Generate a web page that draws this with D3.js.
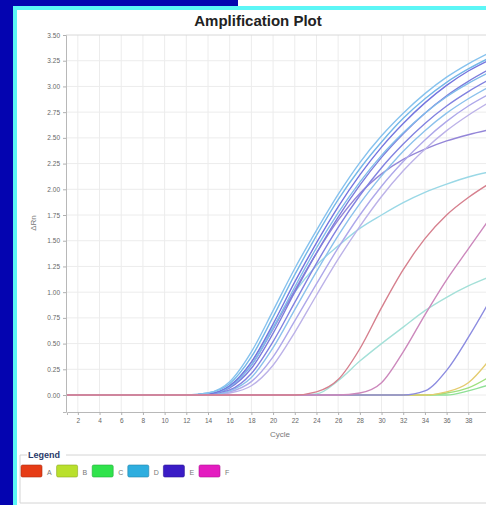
<!DOCTYPE html>
<html>
<head>
<meta charset="utf-8">
<script src="https://cdn.jsdelivr.net/npm/d3@7"></script>
<style>
  body { margin: 0; background: #fff; }
  svg { display: block; font-family: "Liberation Sans", Arial, sans-serif; }
</style>
</head>
<body>
<div id="chart"></div>
<script>
'use strict';

// Data: sampled cycles and delta Rn per well
var cycles = [1, 12, 14, 16, 18, 20, 22, 24, 26, 28, 30, 32, 34, 36, 38, 40];

var wellD1 = [0, 0, 0.02, 0.13, 0.42, 0.82, 1.23, 1.60, 1.95, 2.26, 2.52, 2.74, 2.93, 3.09, 3.22, 3.33];
var wellD2 = [0, 0, 0.02, 0.11, 0.37, 0.76, 1.17, 1.55, 1.90, 2.20, 2.46, 2.69, 2.88, 3.04, 3.17, 3.28];
var wellE1 = [0, 0, 0.01, 0.09, 0.32, 0.69, 1.10, 1.48, 1.83, 2.14, 2.41, 2.64, 2.84, 3.01, 3.15, 3.26];
var wellD3 = [0, 0, 0.01, 0.08, 0.29, 0.65, 1.05, 1.43, 1.77, 2.07, 2.33, 2.55, 2.74, 2.90, 3.03, 3.14];
var wellE2 = [0, 0, 0.01, 0.07, 0.26, 0.60, 1.00, 1.38, 1.73, 2.04, 2.31, 2.54, 2.74, 2.91, 3.05, 3.17];
var wellE3 = [0, 0, 0.01, 0.05, 0.21, 0.52, 0.90, 1.28, 1.63, 1.94, 2.21, 2.44, 2.64, 2.81, 2.95, 3.07];
var wellD4 = [0, 0, 0, 0.04, 0.17, 0.46, 0.83, 1.20, 1.55, 1.86, 2.13, 2.37, 2.57, 2.74, 2.88, 3.00];
var wellE4 = [0, 0, 0, 0.03, 0.13, 0.37, 0.72, 1.08, 1.43, 1.75, 2.03, 2.27, 2.48, 2.66, 2.81, 2.93];
var wellE5 = [0, 0, 0, 0.02, 0.09, 0.29, 0.61, 0.97, 1.32, 1.64, 1.93, 2.18, 2.39, 2.57, 2.72, 2.85];
var wellE6 = [0, 0, 0.01, 0.08, 0.29, 0.64, 1.02, 1.38, 1.70, 1.96, 2.15, 2.29, 2.39, 2.47, 2.53, 2.58];
var wellD5 = [0, 0, 0.01, 0.09, 0.32, 0.66, 1.00, 1.26, 1.45, 1.62, 1.75, 1.87, 1.97, 2.05, 2.12, 2.17];
var wellD6 = [0, 0, 0, 0, 0, 0, 0, 0.01, 0.14, 0.33, 0.50, 0.66, 0.82, 0.95, 1.06, 1.15];
var wellE7 = [0, 0, 0, 0, 0, 0, 0, 0, 0, 0, 0, 0, 0.04, 0.24, 0.56, 0.92];
var wellA1 = [0, 0, 0, 0, 0, 0, 0, 0.03, 0.15, 0.45, 0.85, 1.22, 1.52, 1.75, 1.92, 2.06];
var wellF1 = [0, 0, 0, 0, 0, 0, 0, 0, 0, 0.02, 0.12, 0.42, 0.78, 1.12, 1.42, 1.72];
var wellB1 = [0, 0, 0, 0, 0, 0, 0, 0, 0, 0, 0, 0, 0, 0.03, 0.12, 0.35];
var wellC1 = [0, 0, 0, 0, 0, 0, 0, 0, 0, 0, 0, 0, 0, 0.02, 0.07, 0.18];
var wellC2 = [0, 0, 0, 0, 0, 0, 0, 0, 0, 0, 0, 0, 0, 0, 0.04, 0.10];

var yTicks = [0, 0.25, 0.5, 0.75, 1, 1.25, 1.5, 1.75, 2, 2.25, 2.5, 2.75, 3, 3.25, 3.5];
var xTicks = [2, 4, 6, 8, 10, 12, 14, 16, 18, 20, 22, 24, 26, 28, 30, 32, 34, 36, 38];

var legendNames = ['A', 'B', 'C', 'D', 'E', 'F'];
var legendColors = ['#e63c16', '#b9e02c', '#30e34c', '#2eaedf', '#3a1cc6', '#e41cc0'];

// drawing order: late wells under, blue group, reds on top
var wells = [
  {values: wellC2, color: '#8fe096'},
  {values: wellC1, color: '#9ee07e'},
  {values: wellB1, color: '#e4cc70'},
  {values: wellD6, color: '#a4e0d8'},
  {values: wellD5, color: '#9ad8e6'},
  {values: wellE7, color: '#8c8ce0'},
  {values: wellE6, color: '#9486d8'},
  {values: wellE5, color: '#bcb2e8'},
  {values: wellE4, color: '#aea8ea'},
  {values: wellD4, color: '#8cc2ec'},
  {values: wellE3, color: '#8282e0'},
  {values: wellE2, color: '#7c7cdc'},
  {values: wellD3, color: '#80bcea'},
  {values: wellE1, color: '#7474de'},
  {values: wellD2, color: '#74b6e8'},
  {values: wellD1, color: '#86c2ee'},
  {values: wellF1, color: '#cc88bc'},
  {values: wellA1, color: '#d6808e'}
];

var W = 486, H = 505;

var svg = d3.select('#chart').append('svg')
  .attr('width', W)
  .attr('height', H)

var defs = svg.append('defs')
defs.append('filter').attr('id', 'soft')
  .append('feGaussianBlur').attr('stdDeviation', 0.45)
defs.append('clipPath').attr('id', 'plotclip')
  .append('rect').attr('x', 66).attr('y', 30).attr('width', 430).attr('height', 383)

// Window frame
svg.append('rect').attr('width', W).attr('height', H).attr('fill', '#fff')
svg.append('rect').attr('x', 0).attr('y', 0).attr('width', 238).attr('height', 7).attr('fill', '#0404b0')
svg.append('rect').attr('x', 0).attr('y', 0).attr('width', 13).attr('height', H).attr('fill', '#0404b0')
svg.append('rect').attr('x', 13).attr('y', 6).attr('width', W - 13).attr('height', 4).attr('fill', '#5cf6f6')
svg.append('rect').attr('x', 13).attr('y', 6).attr('width', 4).attr('height', H).attr('fill', '#5cf6f6')

// Title
svg.append('text')
  .attr('x', 258).attr('y', 26)
  .attr('text-anchor', 'middle')
  .attr('font-size', 15)
  .attr('font-weight', 'bold')
  .attr('fill', '#222')
  .text('Amplification Plot')

// Setup: scales
var x = d3.scaleLinear().domain([1, 40]).range([67, 490])
var y = d3.scaleLinear().domain([-0.165, 3.5]).range([412, 35])

var g = svg.append('g')

// Grid
g.selectAll('.vgrid')
  .data(xTicks)
  .enter().append('line')
    .attr('x1', function(d) { return x(d) })
    .attr('x2', function(d) { return x(d) })
    .attr('y1', y(3.5))
    .attr('y2', 412)
    .attr('stroke', '#ececec')
    .attr('stroke-width', 1)

g.selectAll('.hgrid')
  .data(yTicks)
  .enter().append('line')
    .attr('x1', 66)
    .attr('x2', W)
    .attr('y1', function(d) { return y(d) })
    .attr('y2', function(d) { return y(d) })
    .attr('stroke', function(d) { return d === 3.5 ? '#d8d8d8' : '#ececec' })
    .attr('stroke-width', 1)

// Axes
var yAxis = d3.axisLeft(y)
  .tickValues(yTicks)
  .tickFormat(d3.format('.2f'))
  .tickSize(3)
var xAxis = d3.axisBottom(x)
  .tickValues(xTicks)
  .tickFormat(function(d) { return d })
  .tickSize(3)

g.append('g')
  .attr('class', 'axis axis--y')
  .attr('transform', 'translate(66,0)')
  .call(yAxis)

g.append('g')
  .attr('class', 'axis axis--x')
  .attr('transform', 'translate(0,412)')
  .call(xAxis)

g.selectAll('.domain').attr('stroke', '#b8b8b8')
g.selectAll('.tick line').attr('stroke', '#b0b0b0')
g.selectAll('.tick text')
  .attr('fill', '#666')
  .attr('font-size', 6.5)
  .attr('font-family', '"Liberation Sans", Arial, sans-serif')

// Axis labels
svg.append('text')
  .attr('x', 280).attr('y', 437)
  .attr('text-anchor', 'middle')
  .attr('font-size', 8)
  .attr('fill', '#777')
  .text('Cycle')

svg.append('text')
  .attr('transform', 'translate(36,223) rotate(-90)')
  .attr('text-anchor', 'middle')
  .attr('font-size', 8)
  .attr('fill', '#777')
  .text('ΔRn')

// Curves
var line = d3.line()
  .x(function(d, i) { return x(cycles[i]) })
  .y(function(d) { return y(d) })
  .curve(d3.curveMonotoneX)

var curves = svg.append('g')
  .attr('clip-path', 'url(#plotclip)')
  .attr('filter', 'url(#soft)')

curves.selectAll('path')
  .data(wells)
  .enter().append('path')
    .attr('d', function(d) { return line(d.values) })
    .attr('fill', 'none')
    .attr('stroke', function(d) { return d.color })
    .attr('stroke-width', 1.4)
    .attr('stroke-linejoin', 'round')

// Legend box
var legend = svg.append('g')
legend.append('path')
  .attr('d', 'M27,455 H20 V503 H' + W)
  .attr('fill', 'none')
  .attr('stroke', '#d4d4d4')
legend.append('line')
  .attr('x1', 66).attr('x2', W).attr('y1', 455).attr('y2', 455)
  .attr('stroke', '#d4d4d4')
legend.append('text')
  .attr('x', 28).attr('y', 458)
  .attr('font-size', 9)
  .attr('font-weight', 'bold')
  .attr('fill', '#2a3a6a')
  .text('Legend')

var items = legend.selectAll('.item')
  .data(legendNames)
  .enter().append('g')
    .attr('transform', function(d, i) { return 'translate(' + (21 + i * 35.6) + ',465)' })

items.append('rect')
  .attr('width', 21).attr('height', 12)
  .attr('rx', 1.5)
  .attr('fill', function(d, i) { return legendColors[i] })
  .attr('stroke', function(d, i) { return d3.color(legendColors[i]).darker(0.8) })
  .attr('stroke-width', 0.6)

items.append('text')
  .attr('x', 26).attr('y', 9.5)
  .attr('font-size', 7)
  .attr('fill', '#777')
  .text(function(d) { return d })
</script>
</body>
</html>
